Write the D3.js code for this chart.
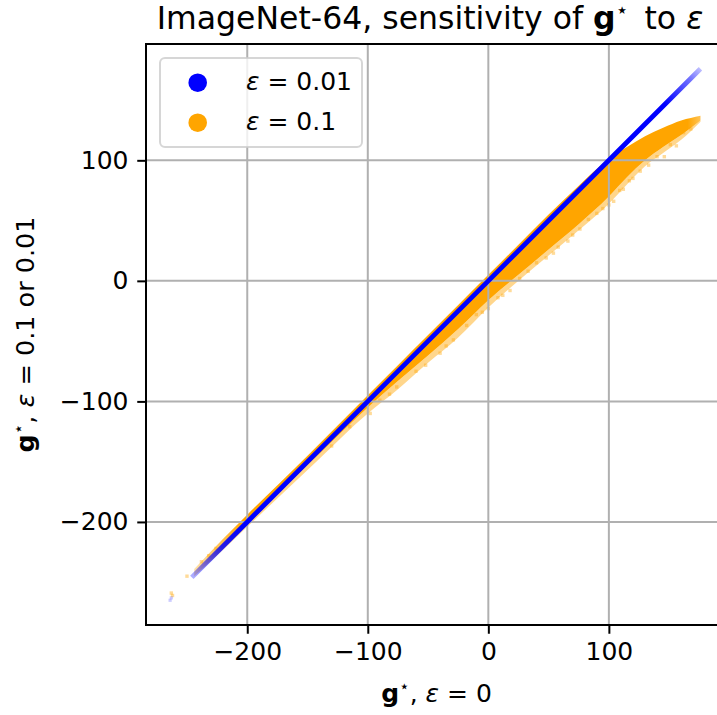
<!DOCTYPE html>
<html>
<head>
<meta charset="utf-8">
<script src="https://cdn.jsdelivr.net/npm/d3@7"></script>
<style>
  html, body { margin: 0; padding: 0; background: #fff; }
  svg { display: block; font-family: "DejaVu Sans", sans-serif; }
</style>
</head>
<body>
<svg id="chart" width="717" height="715"></svg>
<script>
// g* at eps = 0 (x) against g* at eps = 0.01 / 0.1 (y)
const xTicks = [-200, -100, 0, 100];
const yTicks = [-200, -100, 0, 100];

// eps = 0.01: points lie on the diagonal
const blueX = [-246, -200, -100, 0, 100, 176];
const blueY = [-246, -200, -100, 0, 100, 176];
const blueStrayX = [-264, -263];
const blueStrayY = [-265, -263];

// eps = 0.1: envelope of the dense cloud, and of its sparser fringe below
const bandX      = [-244, -220, -200, -150, -100, -75, -50, -25,   0, 25, 50, 75, 100, 115, 130, 145, 160, 176];
const bandUpper  = [-239, -214, -194, -145,  -95, -70, -45, -20,   5, 30, 55, 79, 101, 111, 120, 127, 133, 137];
const bandLower  = [-245, -222, -202, -153, -105, -83, -62, -40, -16,  5, 26, 47,  70,  86, 100, 111, 121, 133];
const bandFringe = [-245, -223, -204, -157, -110, -90, -68, -47, -22,  0, 21, 42,  64,  80,  95, 106, 117, 132];

// eps = 0.1: sparse points outside the dense cloud
const strayX = [126, 117, 109, 100, 90, 76, 66, 140, 151, 162, 133, 120, 95, 83, 58, 48, 40, 26, 18, 0, -10, -18, -29, 8, 33, -40, -60, -76, -82, -90, -98, -115, -130, -263, -262, -250, -238, -232, -226, 104, 112, 70, 54, 12, -5, -35, -52, 146, 156, 168];
const strayY = [ 91,  83,  75,  63, 56, 43, 33, 103, 113, 123,  96,  85, 60, 51, 28, 19, 15,  2, -8, -23, -28, -37, -49, -14, 8, -60, -75, -88, -94, -99, -110, -121, -137, -259, -261, -245, -233, -228, -222, 66, 76, 38, 23, -12, -26, -54, -70, 103, 112, 126];

const svg = d3.select("#chart");
const pL = 146, pT = 44, pR = 727, pB = 625;
const x = d3.scaleLinear().domain([-284, 198]).range([pL, pR]);
const y = d3.scaleLinear().domain([-285.5, 196.5]).range([pB, pT]);

const defs = svg.append("defs");
defs.append("clipPath").attr("id", "plotClip")
  .append("rect").attr("x", pL).attr("y", pT).attr("width", pR - pL).attr("height", pB - pT);

// opacity fades at the ends of each cloud
const gBlue = defs.append("linearGradient").attr("id", "blueFade")
  .attr("gradientUnits", "userSpaceOnUse")
  .attr("x1", x(-246)).attr("y1", y(-246)).attr("x2", x(176)).attr("y2", y(176));
[[0, 0.3], [0.06, 0.85], [0.1, 1], [0.93, 1], [0.98, 0.55], [1, 0.25]].forEach(([o, a]) =>
  gBlue.append("stop").attr("offset", o).attr("stop-color", "#0000ff").attr("stop-opacity", a));

const gOrange = defs.append("linearGradient").attr("id", "orangeFade")
  .attr("gradientUnits", "userSpaceOnUse")
  .attr("x1", x(-246)).attr("y1", 0).attr("x2", x(178)).attr("y2", 0);
[[0, 0.3], [0.06, 0.7], [0.1, 1], [0.97, 1], [1, 0.6]].forEach(([o, a]) =>
  gOrange.append("stop").attr("offset", o).attr("stop-color", "#ffa500").attr("stop-opacity", a));

const plot = svg.append("g").attr("clip-path", "url(#plotClip)");

// orange cloud: sparse fringe, then dense body
const band = bandX.map((v, i) => ({ x: v, lo: bandLower[i], hi: bandUpper[i], fr: bandFringe[i] }));
plot.append("path").datum(band)
  .attr("fill", "#ffa500").attr("fill-opacity", 0.45)
  .attr("d", d3.area().x(d => x(d.x)).y0(d => y(d.fr)).y1(d => y(d.lo)).curve(d3.curveMonotoneX));
plot.append("path").datum(band)
  .attr("fill", "url(#orangeFade)")
  .attr("d", d3.area().x(d => x(d.x)).y0(d => y(d.lo)).y1(d => y(d.hi)).curve(d3.curveMonotoneX));

plot.selectAll("rect.stray").data(strayX.map((v, i) => [v, strayY[i]]))
  .join("rect").attr("class", "stray")
  .attr("x", d => x(d[0]) - 1.7).attr("y", d => y(d[1]) - 1.7)
  .attr("width", 3.4).attr("height", 3.4)
  .attr("fill", "#ffa500").attr("fill-opacity", 0.4);

// grid (above the orange cloud, below the blue one)
const grid = svg.append("g").attr("clip-path", "url(#plotClip)");
grid.selectAll("line.gx").data(xTicks).join("line").attr("class", "gx")
  .attr("x1", d => x(d)).attr("x2", d => x(d)).attr("y1", pT).attr("y2", pB)
  .attr("stroke", "#b0b0b0").attr("stroke-width", 2);
grid.selectAll("line.gy").data(yTicks).join("line").attr("class", "gy")
  .attr("y1", d => y(d)).attr("y2", d => y(d)).attr("x1", pL).attr("x2", pR)
  .attr("stroke", "#b0b0b0").attr("stroke-width", 2);

// blue cloud
const plot2 = svg.append("g").attr("clip-path", "url(#plotClip)");
plot2.append("path").datum(blueX.map((v, i) => [v, blueY[i]]))
  .attr("fill", "none").attr("stroke", "url(#blueFade)").attr("stroke-width", 4.8)
  .attr("d", d3.line().x(d => x(d[0])).y(d => y(d[1])));

plot2.selectAll("rect.bstray").data(blueStrayX.map((v, i) => [v, blueStrayY[i]]))
  .join("rect").attr("class", "bstray")
  .attr("x", d => x(d[0]) - 1.6).attr("y", d => y(d[1]) - 1.6)
  .attr("width", 3.2).attr("height", 3.2)
  .attr("fill", "#0000ff").attr("fill-opacity", 0.2);

// axes
const fmt = d => d3.format("d")(d).replace("-", "\u2212");
const xAxis = svg.append("g").attr("transform", `translate(0,${pB})`)
  .call(d3.axisBottom(x).tickValues(xTicks).tickFormat(fmt).tickSize(8.75).tickPadding(8.75));
const yAxis = svg.append("g").attr("transform", `translate(${pL},0)`)
  .call(d3.axisLeft(y).tickValues(yTicks).tickFormat(fmt).tickSize(8.75).tickPadding(8.75));
[xAxis, yAxis].forEach(a => {
  a.select(".domain").remove();
  a.selectAll(".tick line").attr("stroke", "#000").attr("stroke-width", 2);
  a.selectAll(".tick text").attr("fill", "#000")
    .style("font-family", "DejaVu Sans").style("font-size", "25px");
});

// spines
svg.append("rect").attr("x", pL).attr("y", pT).attr("width", pR - pL).attr("height", pB - pT)
  .attr("fill", "none").attr("stroke", "#000").attr("stroke-width", 2);

// title
const title = svg.append("text").attr("x", 430).attr("y", 29)
  .attr("text-anchor", "middle").style("font-size", "31.5px").attr("fill", "#000");
title.append("tspan").text("ImageNet-64, sensitivity of ");
title.append("tspan").attr("font-weight", "bold").text("g");
title.append("tspan").attr("font-size", "21px").attr("dy", -12).text("\u22c6");
title.append("tspan").attr("dy", 12).text("\u2002to ");
title.append("tspan").attr("font-style", "italic").text("\u03b5");

// x label
const xl = svg.append("text").attr("x", (pL + pR) / 2).attr("y", 702)
  .attr("text-anchor", "middle").style("font-size", "25px").attr("fill", "#000");
xl.append("tspan").attr("font-weight", "bold").text("g");
xl.append("tspan").attr("font-size", "17px").attr("dy", -10).text("\u22c6");
xl.append("tspan").attr("dy", 10).text(", ");
xl.append("tspan").attr("font-style", "italic").text("\u03b5");
xl.append("tspan").text(" = 0");

// y label
const yl = svg.append("text").attr("transform", `translate(34,${(pT + pB) / 2}) rotate(-90)`)
  .attr("text-anchor", "middle").style("font-size", "25.5px").attr("fill", "#000");
yl.append("tspan").attr("font-weight", "bold").text("g");
yl.append("tspan").attr("font-size", "17px").attr("dy", -10).text("\u22c6");
yl.append("tspan").attr("dy", 10).text(", ");
yl.append("tspan").attr("font-style", "italic").text("\u03b5");
yl.append("tspan").text(" = 0.1 or 0.01");

// legend
const legendLabels = ["0.01", "0.1"];
const legendColors = ["#0000ff", "#ffa500"];
const lg = svg.append("g");
lg.append("rect").attr("x", 160).attr("y", 58).attr("width", 202).attr("height", 89).attr("rx", 5)
  .attr("fill", "#fff").attr("fill-opacity", 0.8)
  .attr("stroke", "#cccccc").attr("stroke-opacity", 0.8).attr("stroke-width", 2);
legendLabels.forEach((lab, i) => {
  const cy = 82.7 + i * 40;
  lg.append("circle").attr("cx", 197.7).attr("cy", cy).attr("r", 9.3).attr("fill", legendColors[i]);
  const t = lg.append("text").attr("x", 246).attr("y", cy + 6.8)
    .style("font-size", "25px").attr("fill", "#000");
  t.append("tspan").attr("font-style", "italic").text("\u03b5");
  t.append("tspan").text(" = " + lab);
});
</script>
</body>
</html>
